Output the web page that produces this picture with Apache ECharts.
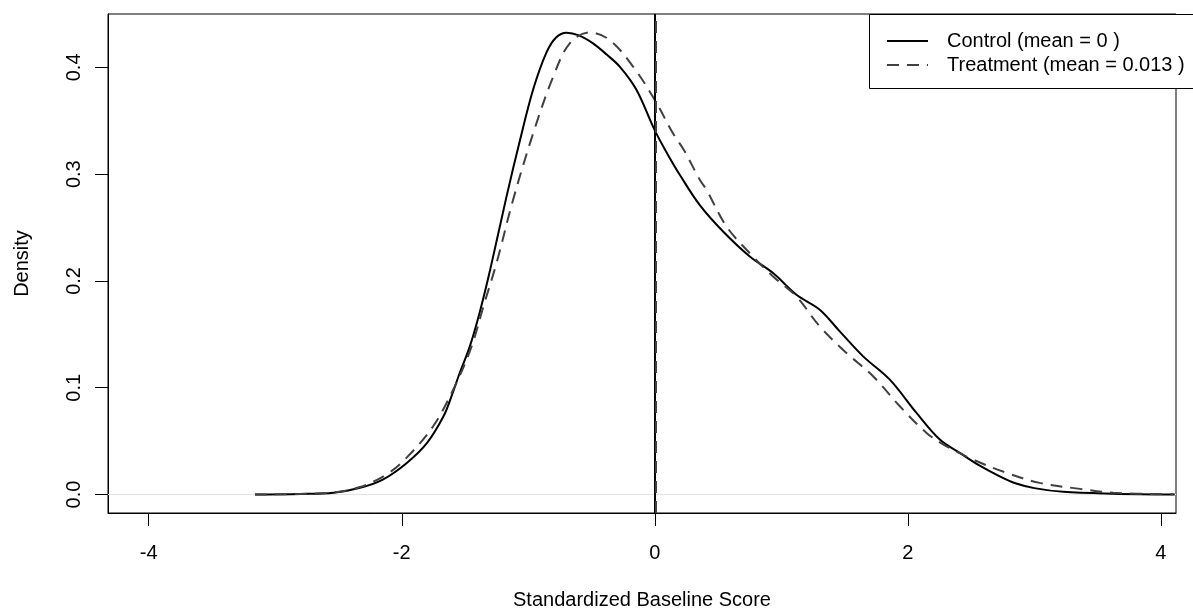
<!DOCTYPE html>
<html>
<head>
<meta charset="utf-8">
<script src="https://cdn.jsdelivr.net/npm/echarts@6/dist/echarts.min.js"></script>
<style>
html, body { margin: 0; padding: 0; background: #fff; }
#main { width: 1193px; height: 612px; }
</style>
</head>
<body>
<div id="main"></div>
<script>
// density curves
var controlX = [-3.16, -2.8, -2.54, -2.33, -2.15, -1.96, -1.8, -1.67, -1.607, -1.542, -1.462, -1.383, -1.304,
    -1.172, -1.067, -0.962, -0.856, -0.78, -0.698, -0.6, -0.488, -0.38, -0.277, -0.145, 0, 0.1, 0.2, 0.356,
    0.54, 0.751, 0.935, 1.12, 1.304, 1.462, 1.647, 1.858, 2.069, 2.253, 2.411, 2.569, 2.727, 2.85, 3.0,
    3.228, 3.623, 4.11];
var controlY = [0.0, 0.0005, 0.0016, 0.0063, 0.014, 0.0296, 0.0484, 0.0733, 0.092, 0.1138, 0.1387, 0.171, 0.209,
    0.279, 0.331, 0.379, 0.414, 0.428, 0.4325, 0.43, 0.4225, 0.412, 0.4007, 0.379, 0.341, 0.319, 0.299, 0.271,
    0.2463, 0.2229, 0.2074, 0.1871, 0.1731, 0.1528, 0.1294, 0.1076, 0.0764, 0.0515, 0.039, 0.027, 0.017, 0.0105, 0.006,
    0.0025, 0.0008, 0.0];
var treatX = [-3.16, -2.8, -2.54, -2.33, -2.122, -1.963, -1.752, -1.581, -1.45, -1.35, -1.251, -1.12, -0.962,
    -0.804, -0.672, -0.514, -0.356, -0.171, 0, 0.145, 0.23, 0.356, 0.409, 0.567, 0.751, 0.935, 1.12, 1.304,
    1.515, 1.726, 1.937, 2.148, 2.306, 2.517, 2.78, 3.043, 3.36, 3.623, 4.1];
var treatY = [0.0, 0.0006, 0.002, 0.007, 0.0187, 0.0343, 0.0639, 0.1013, 0.138, 0.178, 0.2167, 0.276, 0.338,
    0.391, 0.4225, 0.4327, 0.4256, 0.4007, 0.3695, 0.338, 0.3227, 0.2947, 0.2853, 0.251, 0.226, 0.2042, 0.1855, 0.1574,
    0.1326, 0.1107, 0.0827, 0.0577, 0.0452, 0.0327, 0.0203, 0.0109, 0.0053, 0.0016, 0.0003];
var controlMean = 0;
var treatMean = 0.013;
var xTicks = [-4, -2, 0, 2, 4];
var yTicks = [0, 0.1, 0.2, 0.3, 0.4];
var xMin = -4.322, xMax = 4.12;
var yMin = -0.0173, yMax = 0.45;
var names = ['Control (mean = 0 )', 'Treatment (mean = 0.013 )'];

var font = 'Liberation Sans, Arial, Helvetica, sans-serif';

function pairs(xs, ys) {
    return xs.map(function (x, i) { return [x, ys[i]]; });
}

var chart = echarts.init(document.getElementById('main'));
var option = {
    animation: false,
    backgroundColor: '#fff',
    grid: {
        left: 108, top: 14, right: 17, bottom: 99,
        outerBoundsMode: 'none',
        show: true, borderColor: '#000', borderWidth: 1
    },
    // legend frame runs off the right edge, as in the original
    graphic: [{
        type: 'rect', z: 100, silent: true,
        shape: { x: 869.5, y: 14.5, width: 600, height: 74 },
        style: { fill: '#fff', stroke: '#000', lineWidth: 1 }
    }],
    legend: {
        orient: 'vertical',
        left: 869, top: 14, z: 101,
        data: names,
        padding: [17, 0, 13, 17],
        itemWidth: 41, itemHeight: 14, itemGap: 4,
        itemStyle: { opacity: 0 },
        textStyle: { fontSize: 20, color: '#000', fontFamily: font, padding: [0, 0, 0, 14] }
    },
    xAxis: {
        type: 'value', min: xMin, max: xMax,
        name: 'Standardized Baseline Score',
        nameLocation: 'middle', nameGap: 77,
        nameTextStyle: { fontSize: 20, color: '#000', fontFamily: font },
        axisLine: { show: true, onZero: false, lineStyle: { color: '#000', width: 1 } },
        axisTick: { show: true, length: 13, customValues: xTicks, lineStyle: { color: '#000' } },
        axisLabel: {
            customValues: xTicks, margin: 30, fontSize: 20, color: '#000', fontFamily: font,
            formatter: function (v) { return String(v); }
        },
        splitLine: { show: false }
    },
    yAxis: {
        type: 'value', min: yMin, max: yMax,
        name: 'Density',
        nameLocation: 'middle', nameGap: 76, nameRotate: 90,
        nameTextStyle: { fontSize: 20, color: '#000', fontFamily: font },
        axisLine: { show: true, onZero: false, lineStyle: { color: '#000', width: 1 } },
        axisTick: { show: true, length: 13, customValues: yTicks, lineStyle: { color: '#000' } },
        axisLabel: {
            customValues: yTicks, margin: 24, rotate: 90, fontSize: 20, color: '#000', fontFamily: font,
            formatter: function (v) { return v.toFixed(1); }
        },
        splitLine: { show: false }
    },
    series: [
        {
            name: 'zero',
            type: 'line',
            data: [[xMin, 0], [xMax, 0]],
            symbol: 'none', silent: true, z: 1,
            lineStyle: { color: '#e3e3e3', width: 1 }
        },
        {
            name: names[0],
            type: 'line',
            data: pairs(controlX, controlY),
            smooth: 0.35,
            symbol: 'none', z: 3,
            lineStyle: { color: '#000', width: 2 },
            itemStyle: { color: '#000' },
            markLine: {
                silent: true, symbol: ['none', 'none'],
                label: { show: false },
                lineStyle: { color: '#000', width: 2, type: 'solid' },
                data: [{ xAxis: controlMean }]
            }
        },
        {
            name: names[1],
            type: 'line',
            data: pairs(treatX, treatY),
            smooth: 0.35,
            symbol: 'none', z: 4,
            lineStyle: { color: '#404040', width: 2, type: [12, 8] },
            itemStyle: { color: '#404040' },
            markLine: {
                silent: true, symbol: ['none', 'none'],
                label: { show: false },
                lineStyle: { color: '#404040', width: 2, type: [12, 8] },
                data: [{ xAxis: treatMean }]
            }
        }
    ]
};
chart.setOption(option);
</script>
</body>
</html>
